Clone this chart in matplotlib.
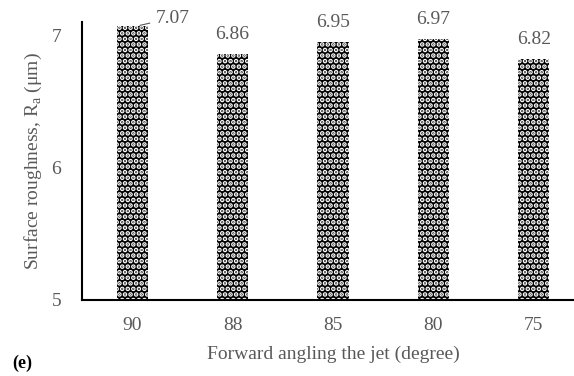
import matplotlib
matplotlib.use("Agg")
import matplotlib.pyplot as plt
import numpy as np

# data
angles = ["90", "88", "85", "80", "75"]
roughness = [7.07, 6.86, 6.95, 6.97, 6.82]

plt.rcParams['font.family'] = ['Liberation Serif', 'DejaVu Serif']
plt.rcParams['hatch.linewidth'] = 2.4
grey = '#595959'
fs = 14

fig = plt.figure(figsize=(5.74, 3.76), dpi=100)
ax = fig.add_axes([82/574, 76/376, 502/574, 278/376])

x = np.arange(len(angles))
bars = ax.bar(x, roughness, width=0.31, color='black', edgecolor='white',
              hatch='...', linewidth=0)

ax.set_xlim(-0.5, 4.5)
ax.set_ylim(5, 7.1)
ax.set_yticks([5, 6, 7])
ax.set_xticks(x)
ax.set_xticklabels(angles)
ax.tick_params(length=0, labelsize=fs, colors=grey, pad=12)
ax.tick_params(axis='y', pad=15)
for s in ['top', 'right']:
    ax.spines[s].set_visible(False)
ax.spines['left'].set_linewidth(1.5)
ax.spines['bottom'].set_linewidth(1.5)

# value labels
for i, v in enumerate(roughness):
    if i == 0:
        ax.annotate(f"{v:.2f}", xy=(x[i] + 0.05, v), xytext=(x[i] + 0.23, v + 0.06),
                    fontsize=fs, color=grey, va='center', ha='left',
                    arrowprops=dict(arrowstyle='-', color=grey, lw=0.8))
    else:
        ax.annotate(f"{v:.2f}", xy=(x[i], v), xytext=(0, 8), textcoords='offset points',
                    ha='center', va='bottom', fontsize=fs, color=grey)

ax.set_xlabel("Forward angling the jet (degree)", fontsize=fs, color=grey, labelpad=9)
ax.set_ylabel("Surface roughness, R$_\\mathregular{a}$ (μm)", fontsize=fs, color=grey, labelpad=5)

fig.text(12/574, 1 - 368/376, "(e)", fontsize=13, fontweight='bold', color='black')

fig.savefig("out.png", dpi=100)
